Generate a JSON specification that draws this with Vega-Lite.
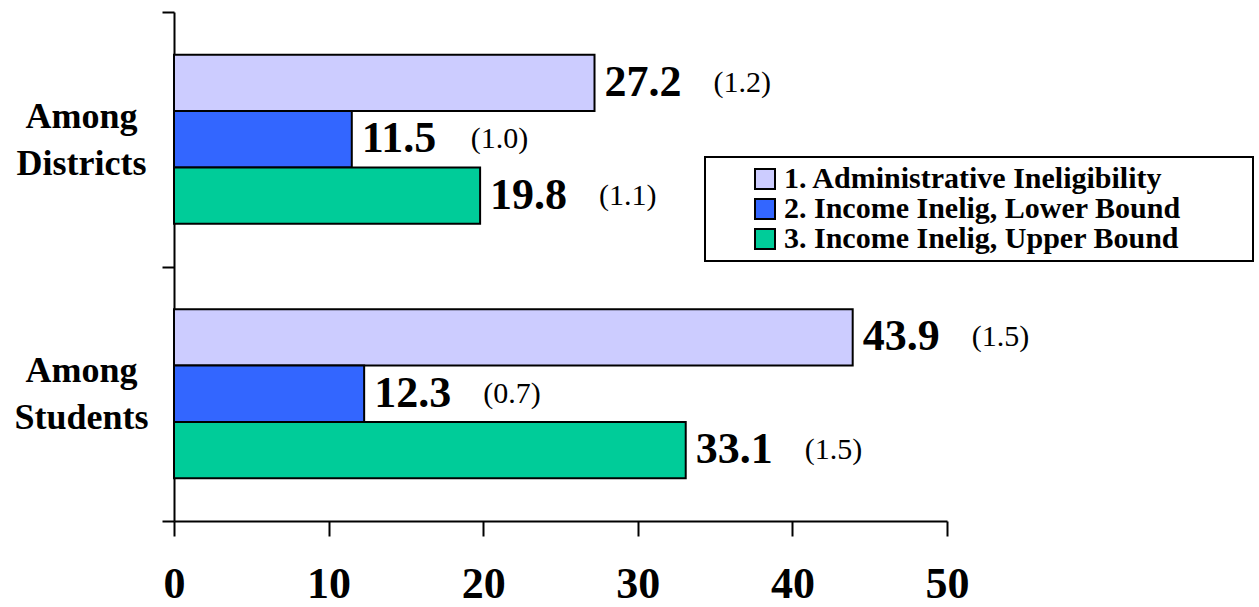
{
  "$schema": "https://vega.github.io/schema/vega-lite/v6.json",
  "autosize": {"type": "none"},
  "padding": {"left": 174, "top": 12, "right": 312, "bottom": 86},
  "width": 773,
  "height": 509,
  "background": "white",
  "config": {"view": {"stroke": null}, "font": "Liberation Serif"},
  "data": {"values": [
    {"group": "Among Districts", "series": "1. Administrative Ineligibility", "value": 27.2, "se": "(1.2)"},
    {"group": "Among Districts", "series": "2. Income Inelig, Lower Bound", "value": 11.5, "se": "(1.0)"},
    {"group": "Among Districts", "series": "3. Income Inelig, Upper Bound", "value": 19.8, "se": "(1.1)"},
    {"group": "Among Students", "series": "1. Administrative Ineligibility", "value": 43.9, "se": "(1.5)"},
    {"group": "Among Students", "series": "2. Income Inelig, Lower Bound", "value": 12.3, "se": "(0.7)"},
    {"group": "Among Students", "series": "3. Income Inelig, Upper Bound", "value": 33.1, "se": "(1.5)"}
  ]},
  "encoding": {
    "y": {"field": "group", "type": "nominal", "sort": null, "title": null,
      "scale": {"paddingInner": 0, "paddingOuter": 0},
      "axis": {"tickBand": "extent", "labelExpr": "split(datum.label, ' ')", "labelAlign": "center",
        "labelBaseline": "middle", "labelPadding": 81, "labelFontSize": 36, "labelFontWeight": "bold",
        "labelLineHeight": 47, "labelOffset": -23, "labelColor": "black", "labelFont": "Liberation Serif",
        "tickSize": 12, "tickWidth": 2, "tickColor": "black", "domainColor": "black", "domainWidth": 2}},
    "yOffset": {"field": "series", "type": "nominal", "sort": null,
      "scale": {"paddingInner": 0, "paddingOuter": 0.76}},
    "x": {"field": "value", "type": "quantitative", "title": null,
      "scale": {"domain": [0, 50], "nice": false},
      "axis": {"values": [0, 10, 20, 30, 40, 50], "grid": false, "tickSize": 15, "tickWidth": 2,
        "tickColor": "black", "domainColor": "black", "domainWidth": 2, "labelFontSize": 44,
        "labelFontWeight": "bold", "labelColor": "black", "labelPadding": 26, "labelFont": "Liberation Serif",
        "labelFlush": false}}
  },
  "layer": [
    {"mark": {"type": "bar", "stroke": "black", "strokeWidth": 2},
      "encoding": {"color": {"field": "series", "type": "nominal", "sort": null,
        "scale": {"range": ["#CCCCFF", "#3366FF", "#00CC99"]},
        "legend": {"title": ".", "titleOrient": "right", "titleColor": "white", "titleFontSize": 10,
          "titlePadding": 62,
          "orient": "none", "legendX": 531, "legendY": 145,
          "labelFontSize": 30, "labelFontWeight": "bold", "labelFont": "Liberation Serif", "labelColor": "black",
          "labelLimit": 800,
          "symbolType": "square", "symbolSize": 400, "symbolStrokeColor": "black", "symbolStrokeWidth": 2,
          "symbolOffset": 38, "labelOffset": 4, "rowPadding": -4, "padding": 7,
          "strokeColor": "black", "fillColor": "white",
          "encode": {
            "legend": {"update": {"strokeWidth": {"value": 2}}}
          }}}}},
    {"mark": {"type": "text", "align": "left", "baseline": "middle", "dx": 10, "fontSize": 44,
      "fontWeight": "bold", "font": "Liberation Serif", "color": "black"},
      "encoding": {"text": {"field": "value", "type": "quantitative", "format": ".1f"}}},
    {"mark": {"type": "text", "align": "left", "baseline": "middle", "dx": 119, "fontSize": 30,
      "font": "Liberation Serif", "color": "black"},
      "encoding": {"text": {"field": "se", "type": "nominal"}}}
  ]
}
